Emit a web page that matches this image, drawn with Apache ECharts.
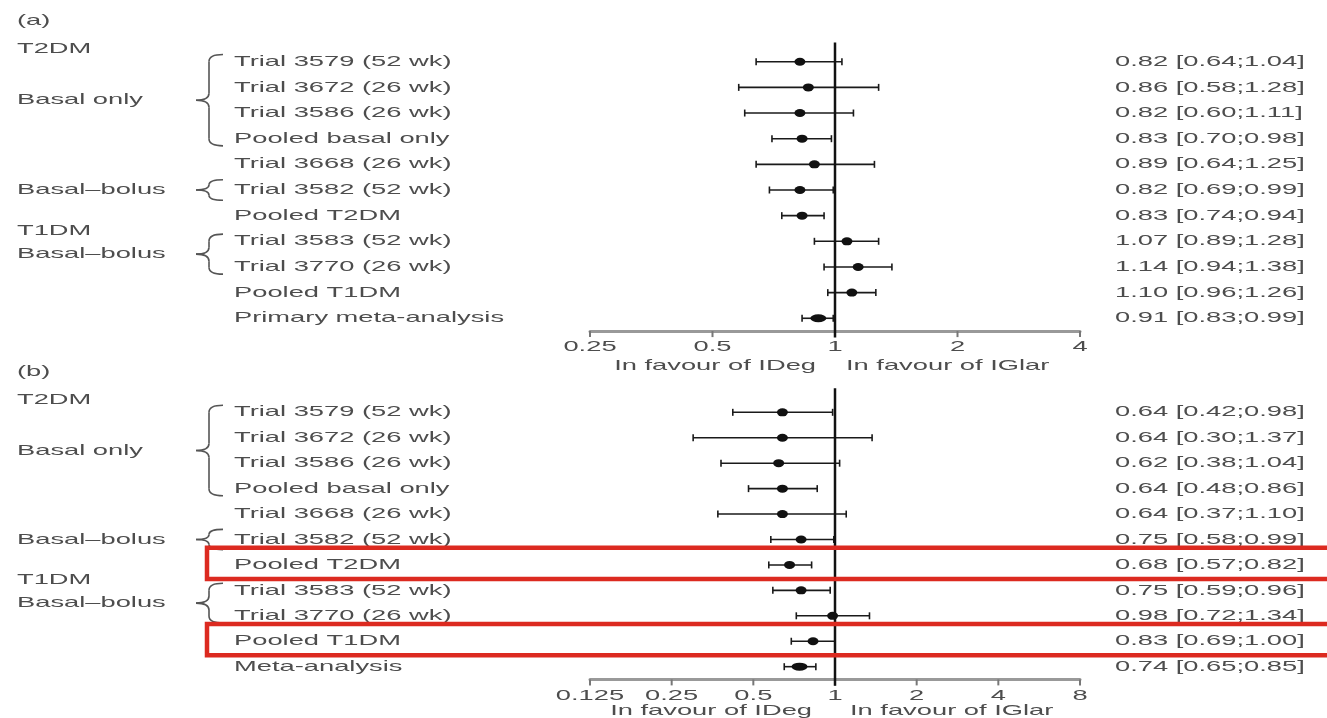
<!DOCTYPE html>
<html><head><meta charset="utf-8">
<script src="https://cdn.jsdelivr.net/npm/echarts@6/dist/echarts.min.js"></script>
<style>html,body{margin:0;padding:0;background:#fff}#c{width:1327px;height:718px}</style>
</head><body><div id="c"></div><script>
// ---------- data ----------
const rowLabelsA = ['Trial 3579 (52 wk)','Trial 3672 (26 wk)','Trial 3586 (26 wk)','Pooled basal only','Trial 3668 (26 wk)','Trial 3582 (52 wk)','Pooled T2DM','Trial 3583 (52 wk)','Trial 3770 (26 wk)','Pooled T1DM','Primary meta-analysis'];
const estA  = [0.82, 0.86, 0.82, 0.83, 0.89, 0.82, 0.83, 1.07, 1.14, 1.10, 0.91];
const lowA  = [0.64, 0.58, 0.60, 0.70, 0.64, 0.69, 0.74, 0.89, 0.94, 0.96, 0.83];
const highA = [1.04, 1.28, 1.11, 0.98, 1.25, 0.99, 0.94, 1.28, 1.38, 1.26, 0.99];

const rowLabelsB = ['Trial 3579 (52 wk)','Trial 3672 (26 wk)','Trial 3586 (26 wk)','Pooled basal only','Trial 3668 (26 wk)','Trial 3582 (52 wk)','Pooled T2DM','Trial 3583 (52 wk)','Trial 3770 (26 wk)','Pooled T1DM','Meta-analysis'];
const estB  = [0.64, 0.64, 0.62, 0.64, 0.64, 0.75, 0.68, 0.75, 0.98, 0.83, 0.74];
const lowB  = [0.42, 0.30, 0.38, 0.48, 0.37, 0.58, 0.57, 0.59, 0.72, 0.69, 0.65];
const highB = [0.98, 1.37, 1.04, 0.86, 1.10, 0.99, 0.82, 0.96, 1.34, 1.00, 0.85];

const metaRow = 10;
const highlightRowsB = [6, 9];

const ticksA = [0.25, 0.5, 1, 2, 4];
const tickLabelsA = ['0.25', '0.5', '1', '2', '4'];
const ticksB = [0.125, 0.25, 0.5, 1, 2, 4, 8];
const tickLabelsB = ['0.125', '0.25', '0.5', '1', '2', '4', '8'];

const groups = [
  { name: 'T2DM', header: -0.5 },
  { name: 'Basal only', from: 0, to: 3 },
  { name: 'Basal–bolus', from: 5, to: 5 },
  { name: 'T1DM', header: 6.6 },
  { name: 'Basal–bolus', from: 7, to: 8 }
];
const nullValue = 1;
const captionLeft = 'In favour of IDeg';
const captionRight = 'In favour of IGlar';

// ---------- styling helpers ----------
const SX = 1.82;
const FONT = '15px "Liberation Sans", Arial, sans-serif';
const TXT = '#4d4d4d';
const LABEL_X = 234, CI_X = 1115, GROUP_X = 17;

function txt(s, x, y, align) {
  return { type: 'text', x: x, y: y, scaleX: SX,
    style: { text: s, x: 0, y: 0, font: FONT, fill: TXT,
      align: align, verticalAlign: 'middle', textAlign: align, textVerticalAlign: 'middle' } };
}
const fmt = v => v.toFixed(2);

function rowsSeries(idx, labels, est, low, high) {
  return {
    type: 'custom', xAxisIndex: idx, yAxisIndex: idx, clip: false, silent: true, z: 3,
    data: est.map((e, i) => [low[i], i, high[i]]),
    encode: { x: [0, 2], y: 1 },
    renderItem: function (params, api) {
      const i = params.dataIndex;
      const lo = api.coord([api.value(0), api.value(1)]);
      const hi = api.coord([api.value(2), api.value(1)]);
      const y = lo[1];
      const c = { stroke: '#1a1a1a', lineWidth: 1.6 };
      return { type: 'group', children: [
        { type: 'line', shape: { x1: lo[0], y1: y, x2: hi[0], y2: y }, style: c },
        { type: 'line', shape: { x1: lo[0], y1: y - 3.5, x2: lo[0], y2: y + 3.5 }, style: c },
        { type: 'line', shape: { x1: hi[0], y1: y - 3.5, x2: hi[0], y2: y + 3.5 }, style: c },
        txt(labels[i], LABEL_X, y, 'left'),
        txt(fmt(est[i]) + ' [' + fmt(low[i]) + ';' + fmt(high[i]) + ']', CI_X, y, 'left')
      ]};
    }
  };
}

function pointsSeries(idx, est) {
  return {
    type: 'scatter', xAxisIndex: idx, yAxisIndex: idx, silent: true, z: 4,
    symbol: 'circle',
    data: est.map((e, i) => ({ value: [e, i], symbolSize: i === metaRow ? [16, 8] : [11, 8] })),
    itemStyle: { color: '#111', opacity: 1 },
    emphasis: { disabled: true }
  };
}

function refSeries(idx, top, bottom) {
  return {
    type: 'custom', xAxisIndex: idx, yAxisIndex: idx, clip: false, silent: true, z: 5,
    data: [[nullValue, top, bottom]],
    encode: { x: 0, y: [1, 2] },
    renderItem: function (params, api) {
      const a = api.coord([api.value(0), api.value(1)]);
      const b = api.coord([api.value(0), api.value(2)]);
      return { type: 'line', shape: { x1: a[0], y1: a[1], x2: b[0], y2: b[1] }, style: { stroke: '#111', lineWidth: 2.5 } };
    }
  };
}

function tickSeries(idx, ticks, labels) {
  return {
    type: 'custom', xAxisIndex: idx, yAxisIndex: idx, clip: false, silent: true, z: 3,
    data: ticks.map(t => [t, 10.5]),
    encode: { x: 0, y: 1 },
    renderItem: function (params, api) {
      const p = api.coord([api.value(0), api.value(1)]);
      return { type: 'group', children: [
        { type: 'line', shape: { x1: p[0], y1: p[1], x2: p[0], y2: p[1] + 6 }, style: { stroke: '#777', lineWidth: 2 } },
        txt(labels[params.dataIndex], p[0], p[1] + 16, 'center')
      ]};
    }
  };
}

function groupSeries(idx) {
  return {
    type: 'custom', xAxisIndex: idx, yAxisIndex: idx, clip: false, silent: true, z: 3,
    data: groups.map(g => [nullValue, g.header != null ? g.header : g.from, g.header != null ? g.header : g.to]),
    encode: { x: 0, y: [1, 2] },
    renderItem: function (params, api) {
      const g = groups[params.dataIndex];
      if (g.header != null) {
        const p = api.coord([nullValue, g.header]);
        return txt(g.name, GROUP_X, p[1], 'left');
      }
      const pad = g.from === g.to ? 0.4 : 0.28;
      const yTop = api.coord([nullValue, g.from - pad])[1];
      const yBot = api.coord([nullValue, g.to + pad])[1];
      const yMid = (yTop + yBot) / 2;
      const xR = 223, xS = 209, xT = 196;
      const r = Math.min(7, (yBot - yTop) / 4);
      const st = { stroke: '#555', lineWidth: 1.6, fill: 'none' };
      return { type: 'group', children: [
        txt(g.name, GROUP_X, yMid, 'left'),
        { type: 'bezierCurve', shape: { x1: xR, y1: yTop, cpx1: xS, cpy1: yTop, x2: xS, y2: yTop + r }, style: st },
        { type: 'line', shape: { x1: xS, y1: yTop + r, x2: xS, y2: yMid - r }, style: st },
        { type: 'bezierCurve', shape: { x1: xS, y1: yMid - r, cpx1: xS, cpy1: yMid, x2: xT, y2: yMid }, style: st },
        { type: 'bezierCurve', shape: { x1: xT, y1: yMid, cpx1: xS, cpy1: yMid, x2: xS, y2: yMid + r }, style: st },
        { type: 'line', shape: { x1: xS, y1: yMid + r, x2: xS, y2: yBot - r }, style: st },
        { type: 'bezierCurve', shape: { x1: xS, y1: yBot - r, cpx1: xS, cpy1: yBot, x2: xR, y2: yBot }, style: st }
      ]};
    }
  };
}

function boxSeries(idx, rows) {
  return {
    type: 'custom', xAxisIndex: idx, yAxisIndex: idx, clip: false, silent: true, z: 10,
    data: rows.map(r => [nullValue, r]),
    encode: { x: 0, y: 1 },
    renderItem: function (params, api) {
      const r = api.value(1);
      const y0 = api.coord([nullValue, r - 0.68])[1];
      const y1 = api.coord([nullValue, r + 0.55])[1];
      return { type: 'rect', shape: { x: 207, y: y0, width: 1140, height: y1 - y0 },
        style: { fill: 'none', stroke: '#dc2a20', lineWidth: 4.5 } };
    }
  };
}

function xAxis(idx, min, max) {
  return { type: 'log', logBase: 2, gridIndex: idx, min: min, max: max, position: 'bottom',
    axisLine: { show: true, onZero: false, lineStyle: { color: '#999', width: 3 } },
    axisTick: { show: false }, axisLabel: { show: false }, splitLine: { show: false } };
}
function yAxis(idx) {
  return { type: 'value', gridIndex: idx, inverse: true, min: -0.5, max: 10.5, show: false };
}

function gtext(s, x, y, align) {
  return { type: 'text', x: x, y: y, scaleX: SX, silent: true,
    style: { text: s, x: 0, y: 0, font: FONT, fill: TXT, align: align, verticalAlign: 'middle', textAlign: align, textVerticalAlign: 'middle' } };
}

const option = {
  animation: false,
  backgroundColor: '#fff',
  grid: [
    { left: 590, right: 247, top: 48.9, height: 282.2 },
    { left: 590, right: 247, top: 399.6, height: 279.8 }
  ],
  xAxis: [xAxis(0, 0.25, 4), xAxis(1, 0.125, 8)],
  yAxis: [yAxis(0), yAxis(1)],
  graphic: [
    gtext('(a)', 17, 21, 'left'),
    gtext('(b)', 17, 372, 'left'),
    gtext(captionLeft, 816, 366, 'right'),
    gtext(captionRight, 846, 366, 'left'),
    gtext(captionLeft, 812, 711, 'right'),
    gtext(captionRight, 850, 711, 'left')
  ],
  series: [
    rowsSeries(0, rowLabelsA, estA, lowA, highA),
    pointsSeries(0, estA),
    refSeries(0, -0.75, 10.75),
    tickSeries(0, ticksA, tickLabelsA),
    groupSeries(0),
    rowsSeries(1, rowLabelsB, estB, lowB, highB),
    pointsSeries(1, estB),
    refSeries(1, -0.95, 10.75),
    tickSeries(1, ticksB, tickLabelsB),
    groupSeries(1),
    boxSeries(1, highlightRowsB)
  ]
};
const chart = echarts.init(document.getElementById('c'), null, { renderer: 'canvas' });
chart.setOption(option);
</script></body></html>
